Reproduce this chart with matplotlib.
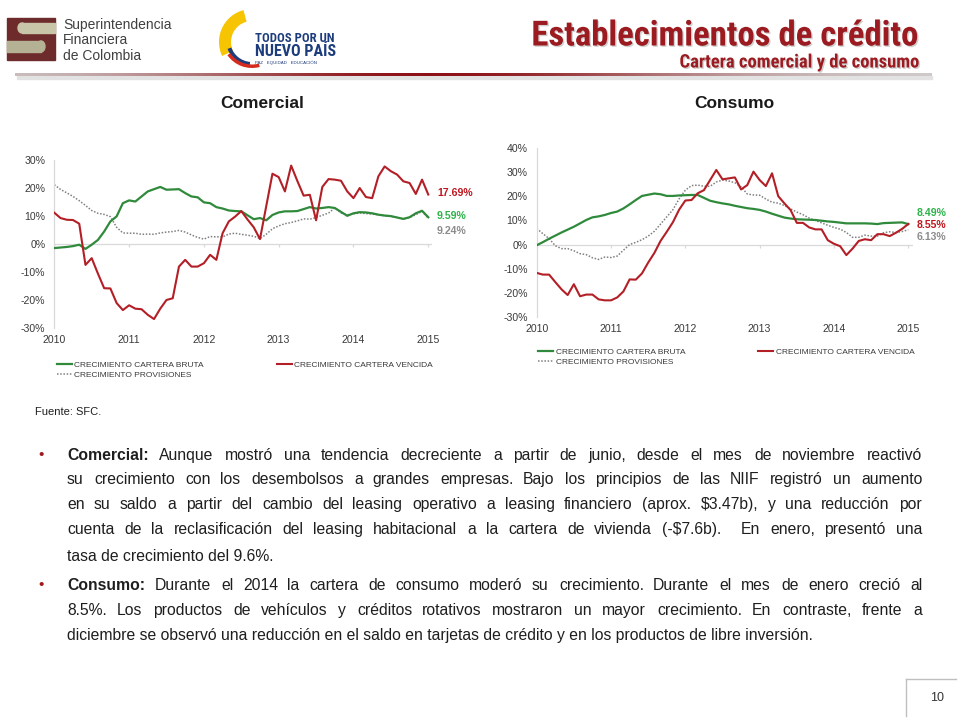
#!/usr/bin/env python3
import matplotlib
matplotlib.use("Agg")
import matplotlib.pyplot as plt
import matplotlib.patheffects as pe
import numpy as np
from matplotlib import font_manager
from matplotlib.patches import Rectangle, Ellipse, Wedge
from matplotlib.ticker import FuncFormatter

# monthly growth rates (%), Jan 2010 .. Jan 2015
years = ["2010", "2011", "2012", "2013", "2014", "2015"]

com_bruta = [-1.4, -1.2, -1.0, -0.7, -0.2, -1.7, -0.2, 1.5, 4.5, 8.1,
             9.9, 14.6, 15.6, 15.2, 17.0, 18.8, 19.6, 20.4, 19.4, 19.5,
             19.6, 18.2, 17.0, 16.7, 14.9, 14.6, 13.2, 12.7, 12.0, 11.8,
             11.7, 10.3, 8.9, 9.3, 8.5, 10.4, 11.3, 11.7, 11.7, 11.8,
             12.5, 13.2, 12.7, 12.9, 13.2, 12.9, 11.5, 10.1, 11.0, 11.4,
             11.3, 11.0, 10.5, 10.2, 10.0, 9.5, 9.0, 9.6, 11.0, 11.9,
             9.59]
com_vencida = [11.2, 9.3, 8.7, 8.6, 7.3, -7.4, -5.0, -10.5, -15.7, -15.8,
               -21.0, -23.5, -21.8, -23.0, -23.2, -25.2, -26.7, -23.0, -19.9, -19.3,
               -8.0, -5.6, -8.0, -8.0, -6.8, -3.8, -5.6, 3.9, 8.1, 9.8,
               11.8, 8.8, 6.0, 1.8, 13.5, 25.1, 23.9, 18.8, 28.0, 22.5,
               17.3, 17.6, 8.5, 20.4, 23.2, 23.0, 22.6, 18.8, 16.4, 20.0,
               16.8, 16.4, 24.2, 27.7, 26.0, 24.8, 22.4, 21.8, 17.9, 23.0,
               17.69]
com_prov = [21.2, 19.5, 18.3, 17.0, 15.5, 13.8, 12.0, 11.0, 10.6, 9.8,
            6.0, 4.0, 3.9, 3.9, 3.5, 3.6, 3.5, 4.0, 4.3, 4.5,
            4.9, 4.3, 3.3, 2.4, 1.8, 2.7, 2.6, 2.6, 3.6, 3.9,
            3.5, 3.2, 2.8, 2.0, 3.5, 5.5, 6.5, 7.3, 7.7, 8.3,
            9.0, 8.9, 9.5, 10.3, 11.1, 12.9, 11.1, 10.5, 10.8, 11.1,
            10.9, 10.7, 10.5, 10.1, 9.9, 9.5, 9.0, 9.5, 10.5, 11.7,
            9.24]

cons_bruta = [-0.3, 1.0, 2.4, 3.7, 5.0, 6.2, 7.4, 8.8, 10.2, 11.3,
              11.7, 12.3, 13.1, 13.7, 15.0, 16.7, 18.5, 20.2, 20.7, 21.2,
              20.9, 20.2, 20.2, 20.4, 20.5, 20.6, 20.6, 19.4, 18.2, 17.6,
              17.1, 16.7, 16.1, 15.6, 15.1, 14.8, 14.4, 13.7, 12.8, 12.0,
              11.2, 10.8, 10.5, 10.4, 10.3, 10.2, 9.9, 9.6, 9.4, 9.1,
              8.8, 8.8, 8.8, 8.8, 8.7, 8.5, 8.9, 9.0, 9.1, 9.2,
              8.49]
cons_vencida = [-11.8, -12.5, -12.5, -15.6, -18.6, -21.0, -16.5, -21.5, -20.8, -20.8,
                -22.8, -23.2, -23.2, -22.0, -19.5, -14.5, -14.6, -12.0, -7.5, -3.5,
                1.5, 5.3, 9.3, 14.5, 18.3, 18.5, 21.3, 22.6, 26.8, 31.0,
                27.1, 27.5, 27.9, 22.9, 24.7, 30.3, 26.8, 24.3, 29.6, 20.1,
                17.1, 14.3, 9.0, 9.0, 7.1, 6.3, 6.3, 1.8, 0.3, -0.7,
                -4.4, -1.7, 1.5, 2.2, 1.8, 4.3, 4.3, 3.5, 4.9, 6.5,
                8.55]
cons_prov = [6.7, 4.5, 2.5, -0.5, -1.7, -1.7, -2.6, -3.8, -4.2, -5.5,
             -6.2, -5.2, -5.4, -4.8, -2.4, 0.0, 0.9, 2.0, 3.5, 5.5,
             8.5, 11.5, 14.5, 19.0, 22.6, 24.5, 24.7, 24.2, 24.2, 26.0,
             26.8, 26.4, 25.7, 24.0, 21.0, 20.6, 20.5, 18.9, 17.6, 17.2,
             16.2, 14.8, 13.5, 12.4, 11.0, 10.0, 9.0, 8.0, 7.1, 6.4,
             5.0, 3.0, 3.0, 3.9, 3.5, 3.5, 4.9, 5.3, 5.0, 5.4,
             6.13]

legend_labels = ["CRECIMIENTO CARTERA BRUTA", "CRECIMIENTO CARTERA VENCIDA",
                 "CRECIMIENTO PROVISIONES"]

texto_comercial = [
    "Comercial: Aunque mostró una tendencia decreciente a partir de junio, desde el mes de noviembre reactivó",
    "su crecimiento con los desembolsos a grandes empresas. Bajo los principios de las NIIF registró un aumento",
    "en su saldo a partir del cambio del leasing operativo a leasing financiero (aprox. $3.47b), y una reducción por",
    "cuenta de la reclasificación del leasing habitacional a la cartera de vivienda (-$7.6b).  En enero, presentó una",
    "tasa de crecimiento del 9.6%.",
]
texto_consumo = [
    "Consumo: Durante el 2014 la cartera de consumo moderó su crecimiento. Durante el mes de enero creció al",
    "8.5%. Los productos de vehículos y créditos rotativos mostraron un mayor crecimiento. En contraste, frente a",
    "diciembre se observó una reducción en el saldo en tarjetas de crédito y en los productos de libre inversión.",
]

W, H = 960, 720
GREEN = "#2F8A3B"
RED = "#B31F26"
GRAY = "#808080"
DARKRED = "#9B1B21"
NAVY = "#1D3C7C"
TXT = "#1E1E1E"
TICK = "#3A3A3A"

SANS = "Liberation Sans"
_names = {f.name for f in font_manager.fontManager.ttflist}
NARROW = None
for cand in ["Liberation Sans Narrow", "Arial Narrow", "Roboto Condensed", "Open Sans Condensed"]:
    if cand in _names:
        NARROW = cand
        break
NFONT = NARROW or SANS


def nsize(pt):
    # condensed face if present, else regular face shrunk to the same width
    return pt if NARROW else pt * 0.83


plt.rcParams["font.family"] = [SANS, "DejaVu Sans"]

fig = plt.figure(figsize=(W / 100, H / 100), dpi=100)
bg = fig.add_axes([0, 0, 1, 1], zorder=0)
bg.axis("off")

# header rule: grey -> dark red -> grey
t = np.linspace(0, 1, 500)
wgt = np.exp(-((t - 0.45) / 0.3) ** 2)
c_grey = np.array([0.82, 0.82, 0.82])
c_red = np.array([0.55, 0.07, 0.09])
grad = c_grey[None, :] * (1 - wgt[:, None]) + c_red[None, :] * wgt[:, None]
bg.imshow(grad[None, :, :], extent=[15, 932, 76, 73], aspect="auto", zorder=2)
bg.add_patch(Rectangle((17, 76), 915, 2.5, color="#E2E2E2", zorder=1))
bg.set_xlim(0, W)
bg.set_ylim(H, 0)

# SFC logo
bg.add_patch(Rectangle((7, 18), 48, 42, color="#6E2B2B"))
bg.add_patch(Rectangle((22, 23), 33, 10, color="#C9C5A8"))
bg.add_patch(Ellipse((22, 28), 8, 10, color="#C9C5A8"))
bg.add_patch(Rectangle((7, 41), 34, 11, color="#B5B194"))
bg.add_patch(Ellipse((41, 46.5), 8, 11, color="#B5B194"))
for yy, s in zip([25, 40, 55.5], ["Superintendencia", "Financiera", "de Colombia"]):
    bg.text(63, yy, s, fontsize=10, color="#404040", va="center")


def swoosh(cx, cy, r, w, a1, a2, color):
    # angles given as seen on screen; y axis of bg is inverted
    bg.add_patch(Wedge((cx, cy), r, -a2, -a1, width=w, color=color, lw=0))


swoosh(252, 42, 33, 12, 105, 205, "#F6C400")
swoosh(252, 40, 26, 4, 200, 265, NAVY)
swoosh(252, 38, 30, 3.5, 215, 285, "#D52B1E")
bg.text(255, 39, "TODOS POR UN", family=NFONT, fontsize=nsize(9.2), weight="bold",
        color=NAVY, va="center")
bg.text(255, 51.5, "NUEVO PAÍS", family=NFONT, fontsize=nsize(11.5), weight="bold",
        color=NAVY, va="center")
bg.text(255, 62.5, "PAZ   EQUIDAD   EDUCACIÓN", fontsize=3.2, color=NAVY, va="center")

# titles
shadow = [pe.SimplePatchShadow(offset=(1, -1), shadow_rgbFace="#9A9A9A", alpha=0.45), pe.Normal()]
bg.text(919, 45.5, "Establecimientos de crédito", family=NFONT, fontsize=nsize(25),
        weight="bold", color=DARKRED, ha="right", va="baseline", path_effects=shadow)
bg.text(919, 67.5, "Cartera comercial y de consumo", family=NFONT, fontsize=nsize(13.4),
        weight="bold", color=DARKRED, ha="right", va="baseline", path_effects=shadow)

bg.text(262, 103, "Comercial", fontsize=12.5, weight="bold", color="#1A1A1A",
        ha="center", va="center")
bg.text(734, 103, "Consumo", fontsize=12.5, weight="bold", color="#1A1A1A",
        ha="center", va="center")


def chart(px_left, px_right, px_top, px_bottom, xmax, ymin, ymax, bruta, vencida, prov):
    ax = fig.add_axes([px_left / W, 1 - px_bottom / H, (px_right - px_left) / W,
                       (px_bottom - px_top) / H], zorder=3)
    ax.patch.set_alpha(0)
    x = np.arange(len(bruta))
    xt = np.arange(0, len(bruta), 12)
    ax.axhline(0, color="#D9D9D9", lw=0.9, zorder=1)
    ax.plot(xt, np.zeros(len(xt)), ls="none", marker=3, ms=2.4, mew=0.9,
            color="#D9D9D9", zorder=1)
    l_bruta, = ax.plot(x, bruta, color=GREEN, lw=1.6, label=legend_labels[0], zorder=3)
    l_venc, = ax.plot(x, vencida, color=RED, lw=1.5, label=legend_labels[1], zorder=4)
    l_prov, = ax.plot(x, prov, color=GRAY, lw=1.1, ls=(0, (1, 1.1)),
                      label=legend_labels[2], zorder=2)
    ax.set_xlim(0, xmax)
    ax.set_ylim(ymin, ymax)
    for s in ["top", "right", "bottom"]:
        ax.spines[s].set_visible(False)
    ax.spines["left"].set_color("#D9D9D9")
    ax.spines["left"].set_linewidth(0.9)
    ax.set_yticks(np.arange(ymin, ymax + 1, 10))
    ax.yaxis.set_major_formatter(FuncFormatter(lambda v, _: f"{v:.0f}%"))
    ax.tick_params(axis="y", length=0, pad=6.5, labelsize=7.6, labelcolor=TICK)
    ax.set_xticks(xt)
    ax.set_xticklabels(years)
    ax.tick_params(axis="x", length=0, pad=5, labelsize=7.6, labelcolor=TICK)
    return l_bruta, l_venc, l_prov


leg_kw = dict(frameon=False, fontsize=6, handlelength=1.8, handletextpad=0.3,
              labelspacing=0.3, borderpad=0, borderaxespad=0, labelcolor="#3A3A3A")

# Comercial
lb, lv, lp = chart(54.3, 431.7, 160, 328.3, 60.55, -30, 30, com_bruta, com_vencida, com_prov)
fig.legend(handles=[lb, lp], loc="upper left", bbox_to_anchor=(57 / W, 1 - 361 / H), **leg_kw)
fig.legend(handles=[lv], loc="upper left", bbox_to_anchor=(277 / W, 1 - 361 / H), **leg_kw)
for yy, v, c in [(193.5, com_vencida[-1], "#C0161E"), (216, com_bruta[-1], "#2DB34A"),
                 (230.5, com_prov[-1], "#8C8C8C")]:
    bg.text(437, yy, f"{v:.2f}%", color=c, fontsize=7.6, weight="bold", va="center")

# Consumo
lb, lv, lp = chart(536.7, 913, 148.3, 316.7, 60.76, -30, 40, cons_bruta, cons_vencida, cons_prov)
fig.legend(handles=[lb, lp], loc="upper left", bbox_to_anchor=(538 / W, 1 - 348 / H), **leg_kw)
fig.legend(handles=[lv], loc="upper left", bbox_to_anchor=(758 / W, 1 - 348 / H), **leg_kw)
for yy, v, c in [(212.5, cons_bruta[-1], "#2DB34A"), (225, cons_vencida[-1], "#C0161E"),
                 (237.5, cons_prov[-1], "#8C8C8C")]:
    bg.text(917, yy, f"{v:.2f}%", color=c, fontsize=7.6, weight="bold", va="center")

bg.text(35, 412, "Fuente: SFC.", fontsize=8, color=TXT, va="center")

# justified bullet text
renderer = fig.canvas.get_renderer()
BODY = 11.3
X0, X1 = 67, 922


def put_line(y, line, justify, bold_first):
    if not justify:
        bg.text(X0, y, line, fontsize=BODY, color=TXT, va="baseline", parse_math=False)
        return
    words = line.split(" ")
    arts, widths = [], []
    for i, wd in enumerate(words):
        a = bg.text(X0, y, wd, fontsize=BODY, color=TXT, va="baseline", parse_math=False,
                    weight="bold" if (bold_first and i == 0) else "normal")
        arts.append(a)
        widths.append(a.get_window_extent(renderer).width if wd else 0.0)
    gap = (X1 - X0 - sum(widths)) / (len(words) - 1)
    xx = X0
    for a, wdt in zip(arts, widths):
        a.set_x(round(xx))
        xx += wdt + gap


for lines, ys in [(texto_comercial, [455, 479.5, 504, 528.5, 556]),
                  (texto_consumo, [585, 610, 635])]:
    bg.text(41, ys[0], "•", fontsize=11, color="#A0171E", ha="center", va="center")
    for i, (ln, yc) in enumerate(zip(lines, ys)):
        put_line(round(yc + 5), ln, justify=(i < len(lines) - 1), bold_first=(i == 0))

# page number box
bg.plot([906, 956], [679, 679], color="#BFBFBF", lw=1)
bg.plot([906, 906], [679, 716], color="#BFBFBF", lw=1)
bg.text(937, 698, "10", fontsize=9, color="#333333", ha="center", va="center")

fig.savefig("out.png", dpi=100)
plt.close(fig)
